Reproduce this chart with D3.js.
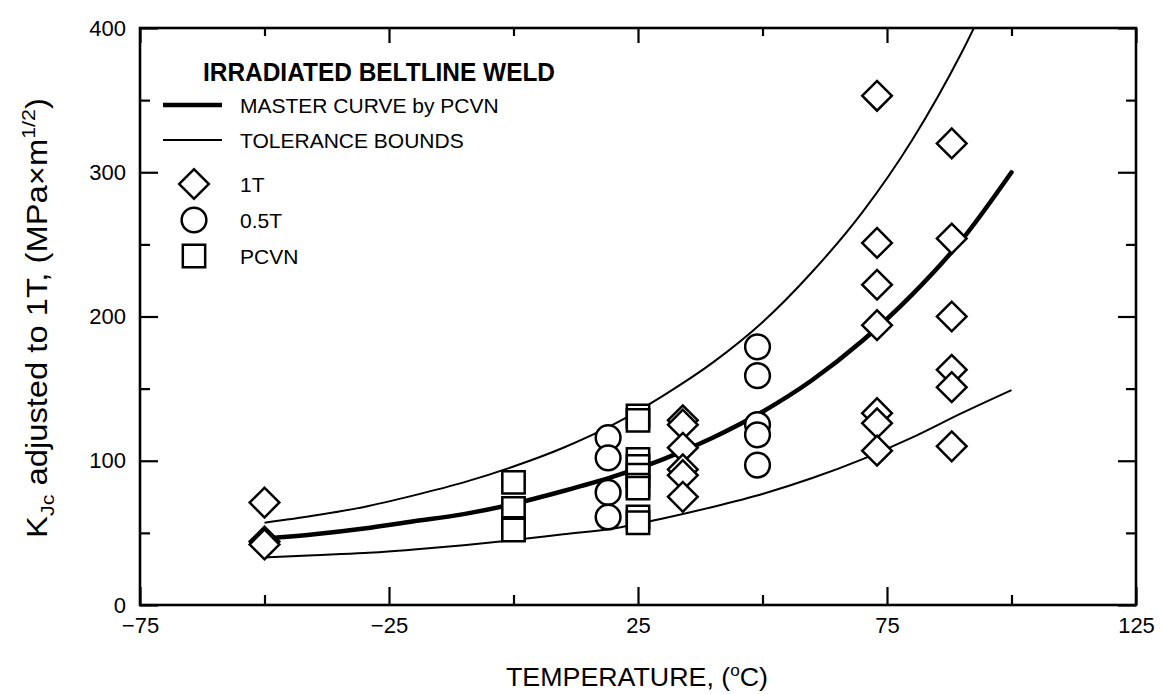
<!DOCTYPE html>
<html>
<head>
<meta charset="utf-8">
<script src="https://cdn.jsdelivr.net/npm/d3@7"></script>
<style>
  body { margin: 0; background: #fff; }
  text { font-family: "Liberation Sans", Arial, sans-serif; fill: #000; }
</style>
</head>
<body>
<div id="chart"></div>
<script>
// axis ticks
const tempTicks = [-75, -25, 25, 75, 125]
const tempMinorTicks = [-50, 0, 50, 100]
const kTicks = [0, 100, 200, 300, 400]
const kMinorTicks = [50, 150, 250, 350]

// curves
const curveTemps = [-50, -40, -30, -20, -10, 0, 10, 20, 30, 40, 50, 60, 70, 80, 90, 100]
const masterCurve = [46, 49, 53, 58, 63, 70, 79, 89, 101, 116, 134, 156, 183, 215, 253, 300]
const lowerBound = [33, 34.5, 36, 38.5, 41.5, 45, 49, 53, 60, 68, 77, 88, 101, 116, 133, 149]
const upperBound = [57, 62, 68, 76, 85, 96, 109, 125, 145, 168, 196, 231, 272, 322, 383, 456]

// 1T specimens
const temps1T = [-50, -50, -50, 34, 34, 34, 34, 34, 34, 73, 73, 73, 73, 73, 73, 73, 88, 88, 88, 88, 88, 88]
const kjc1T = [71, 44, 42, 128, 125, 109, 94, 90, 75, 353, 251, 222, 194, 133, 126, 107, 320, 254, 200, 163, 151, 110]

// 0.5T specimens
const tempsHalfT = [19, 19, 19, 19, 49, 49, 49, 49, 49]
const kjcHalfT = [116, 102, 78, 61, 179, 159, 125, 118, 97]

// PCVN specimens
const tempsPcvn = [0, 0, 0, 0, 25, 25, 25, 25, 25, 25, 25, 25, 25]
const kjcPcvn = [85, 67, 53, 52, 131, 128, 101, 96, 90, 83, 81, 61, 57]

const legendTitle = "IRRADIATED BELTLINE WELD"
const legendLines = ["MASTER CURVE by PCVN", "TOLERANCE BOUNDS"]
const legendMarks = ["1T", "0.5T", "PCVN"]

const W = 1163, H = 694
const plot = {left: 140, right: 1136, top: 28, bottom: 605}

const svg = d3.select('#chart')
  .append('svg')
  .attr('width', W)
  .attr('height', H)

const x = d3.scaleLinear().domain([-75, 125]).range([plot.left, plot.right])
const y = d3.scaleLinear().domain([0, 400]).range([plot.bottom, plot.top])

svg.append('defs').append('clipPath')
  .attr('id', 'clip')
  .append('rect')
  .attr('x', plot.left).attr('y', plot.top)
  .attr('width', plot.right - plot.left)
  .attr('height', plot.bottom - plot.top)

const styleAxis = g => {
  g.select('.domain').remove()
  g.selectAll('.tick line').attr('stroke', '#000').attr('stroke-width', 2.2)
  g.selectAll('.tick text').attr('fill', '#000')
    .style('font-family', '"Liberation Sans", Arial, sans-serif')
}

// bottom axis, inward ticks with labels
svg.append('g')
  .attr('transform', `translate(0,${plot.bottom})`)
  .call(d3.axisBottom(x).tickValues(tempTicks).tickSize(-18).tickPadding(9).tickFormat(d3.format('d')))
  .call(styleAxis)
  .selectAll('.tick text').attr('font-size', 22).attr('dy', '0.85em')
svg.append('g')
  .attr('transform', `translate(0,${plot.bottom})`)
  .call(d3.axisBottom(x).tickValues(tempMinorTicks).tickSize(-10).tickFormat(''))
  .call(styleAxis)

// top axis
svg.append('g')
  .attr('transform', `translate(0,${plot.top})`)
  .call(d3.axisTop(x).tickValues(tempTicks).tickSize(-15).tickFormat(''))
  .call(styleAxis)
svg.append('g')
  .attr('transform', `translate(0,${plot.top})`)
  .call(d3.axisTop(x).tickValues(tempMinorTicks).tickSize(-8).tickFormat(''))
  .call(styleAxis)

// left axis
svg.append('g')
  .attr('transform', `translate(${plot.left},0)`)
  .call(d3.axisLeft(y).tickValues(kTicks).tickSize(-18).tickPadding(14))
  .call(styleAxis)
  .selectAll('.tick text').attr('font-size', 22)
svg.append('g')
  .attr('transform', `translate(${plot.left},0)`)
  .call(d3.axisLeft(y).tickValues(kMinorTicks).tickSize(-10).tickFormat(''))
  .call(styleAxis)

// right axis
svg.append('g')
  .attr('transform', `translate(${plot.right},0)`)
  .call(d3.axisRight(y).tickValues(kTicks).tickSize(-18).tickFormat(''))
  .call(styleAxis)
svg.append('g')
  .attr('transform', `translate(${plot.right},0)`)
  .call(d3.axisRight(y).tickValues(kMinorTicks).tickSize(-10).tickFormat(''))
  .call(styleAxis)

// frame
svg.append('rect')
  .attr('x', plot.left).attr('y', plot.top)
  .attr('width', plot.right - plot.left)
  .attr('height', plot.bottom - plot.top)
  .attr('fill', 'none')
  .attr('stroke', '#000')
  .attr('stroke-width', 2.6)

// axis titles
svg.append('text')
  .attr('x', 637)
  .attr('y', 686)
  .attr('text-anchor', 'middle')
  .attr('font-size', 25)
  .attr('textLength', 262).attr('lengthAdjust', 'spacingAndGlyphs')
  .call(t => {
    t.append('tspan').text('TEMPERATURE, (')
    t.append('tspan').attr('font-size', 16).attr('dy', -10).text('o')
    t.append('tspan').attr('dy', 10).text('C)')
  })

// y title: narrow lettering, squeezed to the span seen in the scan
const yTitle = svg.append('g')
const yText = yTitle.append('text')
  .attr('text-anchor', 'middle')
  .attr('font-size', 29)
  .call(t => {
    t.append('tspan').text('K')
    t.append('tspan').attr('font-size', 19).attr('dy', 7).text('Jc')
    t.append('tspan').attr('dy', -7).text(' adjusted to 1T, (MPa×m')
    t.append('tspan').attr('font-size', 19).attr('dy', -12).text('1/2')
    t.append('tspan').attr('dy', 12).text(')')
  })
const yLen = yText.node().getBBox().width
yTitle.attr('transform', `translate(47,318) rotate(-90) scale(${440 / yLen},1)`)

// curves
const line = d3.line()
  .x(d => x(d[0]))
  .y(d => y(d[1]))
  .curve(d3.curveMonotoneX)

const curves = svg.append('g').attr('clip-path', 'url(#clip)')
curves.append('path')
  .datum(d3.zip(curveTemps, upperBound))
  .attr('d', line).attr('fill', 'none').attr('stroke', '#000').attr('stroke-width', 2)
curves.append('path')
  .datum(d3.zip(curveTemps, lowerBound))
  .attr('d', line).attr('fill', 'none').attr('stroke', '#000').attr('stroke-width', 2)
curves.append('path')
  .datum(d3.zip(curveTemps, masterCurve))
  .attr('d', line).attr('fill', 'none').attr('stroke', '#000').attr('stroke-width', 4.5)
  .attr('stroke-linecap', 'round')

// markers
const diamond = d3.symbol().type(d3.symbolSquare).size(440)
const circle = d3.symbol().type(d3.symbolCircle).size(480)
const square = d3.symbol().type(d3.symbolSquare).size(500)

const addMarks = (temps, vals, sym, rot) => {
  svg.append('g')
    .selectAll('path')
    .data(d3.zip(temps, vals))
    .enter().append('path')
    .attr('d', sym)
    .attr('transform', d => `translate(${x(d[0])},${y(d[1])}) rotate(${rot})`)
    .attr('fill', '#fff')
    .attr('stroke', '#000')
    .attr('stroke-width', 2.5)
}
addMarks(tempsHalfT, kjcHalfT, circle, 0)
addMarks(tempsPcvn, kjcPcvn, square, 0)
addMarks(temps1T, kjc1T, diamond, 45)

// legend
const legend = svg.append('g')
legend.append('text')
  .attr('x', 203).attr('y', 81)
  .attr('font-size', 25).attr('font-weight', 'bold')
  .attr('textLength', 352).attr('lengthAdjust', 'spacingAndGlyphs')
  .text(legendTitle)

const lineWidths = [4.5, 2]
legendLines.forEach((label, i) => {
  const ly = 105 + i * 35
  legend.append('line')
    .attr('x1', 163).attr('x2', 222).attr('y1', ly).attr('y2', ly)
    .attr('stroke', '#000').attr('stroke-width', lineWidths[i])
  legend.append('text')
    .attr('x', 240).attr('y', ly).attr('dy', '0.36em')
    .attr('font-size', 21)
    .text(label)
})

const legendSyms = [[diamond, 45], [circle, 0], [square, 0]]
legendMarks.forEach((label, i) => {
  const ly = 184 + i * 36
  legend.append('path')
    .attr('d', legendSyms[i][0])
    .attr('transform', `translate(194,${ly}) rotate(${legendSyms[i][1]})`)
    .attr('fill', '#fff').attr('stroke', '#000').attr('stroke-width', 2.5)
  legend.append('text')
    .attr('x', 240).attr('y', ly).attr('dy', '0.36em')
    .attr('font-size', 21)
    .text(label)
})
</script>
</body>
</html>
